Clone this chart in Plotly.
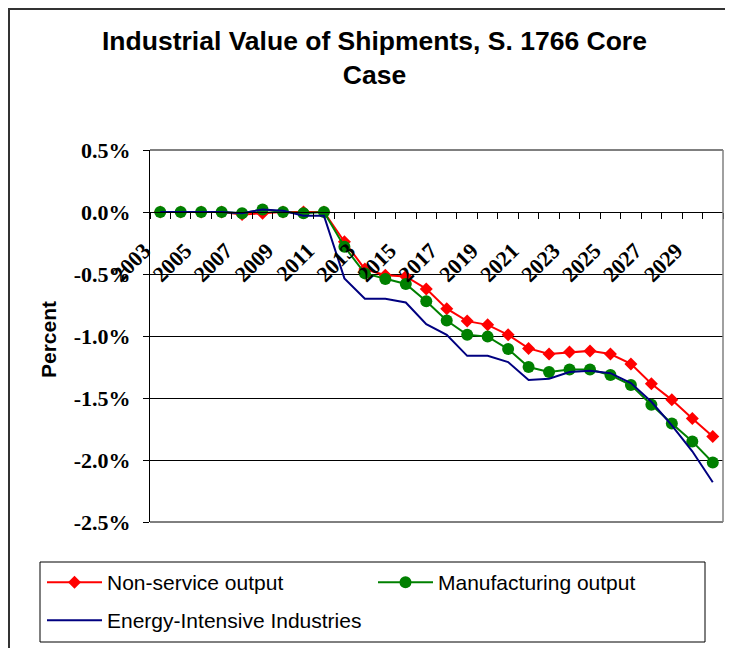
import plotly.graph_objects as go

years = [str(y) for y in range(2003, 2031)]
non_service = [0.0, 0.0, 0.0, 0.0, -0.02, -0.01, 0.0, 0.0, 0.0, -0.24, -0.46, -0.51, -0.52,
               -0.62, -0.78, -0.88, -0.91, -0.99, -1.10, -1.145, -1.13, -1.12, -1.145,
               -1.225, -1.385, -1.515, -1.665, -1.81]
manufacturing = [0.0, 0.0, 0.0, 0.0, -0.01, 0.02, 0.0, -0.01, 0.0, -0.28, -0.495, -0.54, -0.58,
                 -0.72, -0.875, -0.99, -1.005, -1.105, -1.25, -1.29, -1.27, -1.27, -1.315,
                 -1.395, -1.555, -1.705, -1.85, -2.02]
energy_intensive = [0.0, 0.0, 0.0, 0.0, -0.01, 0.02, 0.01, -0.03, -0.03, -0.535, -0.70, -0.70,
                    -0.73, -0.905, -0.99, -1.16, -1.16, -1.21, -1.355, -1.345, -1.29, -1.28,
                    -1.30, -1.38, -1.53, -1.72, -1.93, -2.18]
x_ticktext = [y if i % 2 == 0 else "" for i, y in enumerate(years)]
y_tickvals = [0.5, 0.0, -0.5, -1.0, -1.5, -2.0, -2.5]
y_ticktext = ["0.5%", "0.0%", "-0.5%", "-1.0%", "-1.5%", "-2.0%", "-2.5%"]

W, H = 733, 648
OFF = 8  # page offset of the figure (body margin)
L, T = 150 - OFF, 150 - OFF
R, B = W - (723 - OFF), H - (522 - OFF)
PW, PH = W - L - R, H - T - B


def px(xp):
    # page x pixel -> paper fraction
    return (xp - OFF - L) / PW


def py(yp):
    # page y pixel -> paper fraction
    return 1 - (yp - OFF - T) / PH


fig = go.Figure()
fig.add_trace(go.Scatter(x=years, y=non_service, name="Non-service output", mode="lines+markers",
                         line=dict(color="#FF0000", width=2),
                         marker=dict(symbol="diamond", size=10, color="#FF0000"),
                         legend="legend"))
fig.add_trace(go.Scatter(x=years, y=manufacturing, name="Manufacturing output", mode="lines+markers",
                         line=dict(color="#008000", width=2),
                         marker=dict(symbol="circle", size=12, color="#008000"),
                         legend="legend"))
fig.add_trace(go.Scatter(x=years, y=energy_intensive, name="Energy-Intensive Industries", mode="lines",
                         line=dict(color="#000080", width=2),
                         legend="legend2"))

legend_common = dict(orientation="h", xanchor="left", yanchor="top", borderwidth=0,
                     bgcolor="rgba(0,0,0,0)", itemwidth=55, entrywidth=261,
                     font=dict(family="Liberation Sans", size=21, color="black"))

fig.update_layout(
    width=W, height=H,
    margin=dict(l=L, r=R, t=T, b=B, autoexpand=False),
    paper_bgcolor="white", plot_bgcolor="white",
    showlegend=True,
    legend=dict(x=px(42), y=py(562), **legend_common),
    legend2=dict(x=px(42), y=py(600), **legend_common),
    xaxis=dict(type="category", categoryorder="array", categoryarray=years,
               range=[-0.5, len(years) - 0.5],
               anchor="free", position=2.5 / 3.0,
               showline=True, linecolor="black", linewidth=1,
               ticks="outside", ticklen=6, tickcolor="black", tickson="boundaries",
               tickvals=years, ticktext=x_ticktext, tickangle=-45,
               ticklabelstandoff=16, ticklabelshift=-16,
               tickfont=dict(family="Liberation Serif", size=22, color="black", weight="bold"),
               showgrid=False, zeroline=False),
    yaxis=dict(range=[-2.5, 0.5], tickvals=y_tickvals, ticktext=y_ticktext,
               showgrid=True, gridcolor="black", gridwidth=1,
               showline=True, linecolor="black", linewidth=1,
               ticks="outside", ticklen=6, tickcolor="black", ticklabelstandoff=8,
               tickfont=dict(family="Liberation Serif", size=22, color="black", weight="bold"),
               zeroline=False),
    annotations=[
        dict(text="Industrial Value of Shipments, S. 1766 Core<br>Case", xref="paper", yref="paper",
             x=px(374.5), y=py(58.5), xanchor="center", yanchor="middle", showarrow=False,
             font=dict(family="Liberation Sans", size=26.5, color="black", weight="bold")),
        dict(text="Percent", xref="paper", yref="paper", x=px(48), y=py(340), textangle=-90,
             xanchor="center", yanchor="middle", showarrow=False,
             font=dict(family="Liberation Sans", size=21, color="black", weight="bold")),
    ],
    shapes=[
        dict(type="line", xref="paper", yref="paper", x0=0, x1=1, y0=1, y1=1,
             line=dict(color="black", width=1)),
        dict(type="line", xref="paper", yref="paper", x0=0, x1=1, y0=0, y1=0,
             line=dict(color="black", width=1)),
        dict(type="line", xref="paper", yref="paper", x0=1, x1=1, y0=0, y1=1,
             line=dict(color="#808080", width=1.5)),
        dict(type="rect", xref="paper", yref="paper", x0=px(40), x1=px(705), y0=py(642), y1=py(562),
             line=dict(color="black", width=1)),
        dict(type="rect", xref="paper", yref="paper", x0=px(OFF + 1), x1=px(745), y0=py(670),
             y1=py(OFF + 1), line=dict(color="#333333", width=2)),
    ],
)

fig.write_html("out.html")
